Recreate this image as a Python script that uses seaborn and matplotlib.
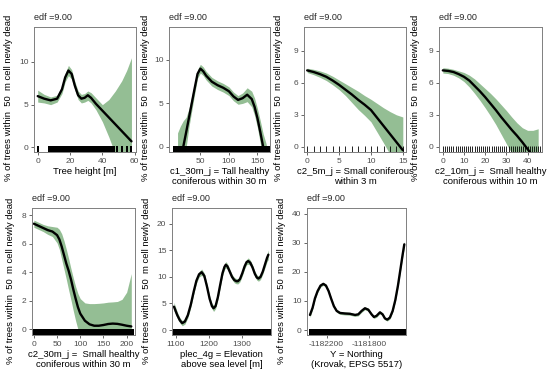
import matplotlib
matplotlib.use("Agg")
import matplotlib.pyplot as plt
import seaborn as sns

sns.set_theme(style="white")
plt.rcParams["font.family"] = ["Liberation Sans", "DejaVu Sans"]
plt.rcParams["axes.unicode_minus"] = False

ylab = "% of trees within  50  m cell newly dead"
edf_text = "edf =9.00"

# --- Tree height
h_x = [0, 4, 8, 12, 15, 17, 19, 21, 23, 25, 27, 29, 31, 33, 36, 40, 44, 48, 52, 55, 58]
h_fit = [6.0, 5.7, 5.5, 5.7, 6.8, 8.2, 9.0, 8.6, 7.2, 6.1, 5.7, 5.8, 6.1, 5.8, 5.1, 4.3, 3.5, 2.7, 1.9, 1.3, 0.7]
h_hi = [6.7, 6.2, 5.9, 6.1, 7.2, 8.7, 9.6, 9.1, 7.7, 6.6, 6.2, 6.3, 6.6, 6.4, 5.8, 5.0, 5.6, 6.6, 7.8, 9.0, 10.5]
h_lo = [5.3, 5.2, 5.0, 5.3, 6.3, 7.7, 8.4, 8.0, 6.7, 5.6, 5.2, 5.3, 5.5, 5.2, 4.4, 3.0, 1.2, -0.8, -3.0, -5.0, -8.0]
h_rug = [0, 7, 8, 9, 10, 11, 12, 13, 14, 15, 16, 17, 18, 19, 20, 21, 22, 23, 24, 25, 26, 27,
         28, 29, 30, 31, 32, 33, 34, 35, 36, 37, 38, 39, 40, 41, 42, 43, 44, 45, 46, 47,
         49, 52, 55, 58]

# --- c1_30m_j
c1_x = [10, 15, 20, 25, 30, 35, 40, 45, 50, 55, 60, 70, 80, 90, 100, 108, 116, 124, 132, 140, 145, 150, 155, 160, 165, 170]
c1_fit = [-3.4, -1.7, 0.0, 1.65, 3.35, 5.05, 6.75, 8.4, 9.0, 8.7, 8.2, 7.5, 7.1, 6.8, 6.4, 5.8, 5.4, 5.6, 6.0, 5.5, 4.6, 3.3, 1.7, 0.0, -1.8, -3.7]
c1_hi = [1.6, 2.4, 3.0, 3.4, 4.4, 5.9, 7.4, 8.9, 9.5, 9.2, 8.7, 8.0, 7.6, 7.3, 6.9, 6.3, 5.9, 6.2, 6.8, 6.4, 5.6, 4.4, 3.0, 1.5, 0.4, -1.2]
c1_lo = [-8.4, -6.0, -3.0, -0.1, 2.3, 4.2, 6.1, 7.9, 8.5, 8.2, 7.7, 7.0, 6.6, 6.3, 5.9, 5.3, 4.9, 5.0, 5.2, 4.6, 3.6, 2.2, 0.4, -1.5, -4.0, -6.2]
c1_rug = [5, 12, 14, 16, 18, 20, 22, 24, 26, 28, 30, 32, 34, 36, 38, 40, 42, 44, 46, 48, 50,
          52, 54, 56, 58, 60, 62, 64, 66, 68, 70, 72, 74, 76, 78, 80, 82, 84, 86, 88, 90,
          92, 94, 96, 98, 100, 102, 104, 106, 108, 110, 112, 114, 116, 118, 120, 122, 124,
          126, 128, 130, 132, 134, 136, 138, 140, 142, 144, 146, 148, 150, 152, 154, 156,
          158, 160, 162, 164, 166, 168]

# --- c2_5m_j
c5_x = [0, 1, 2, 3, 4, 5, 6, 7, 8, 9, 10, 11, 12, 13, 14, 15]
c5_fit = [7.15, 7.0, 6.8, 6.55, 6.2, 5.8, 5.35, 4.9, 4.4, 3.95, 3.45, 2.7, 1.95, 1.2, 0.45, -0.3]
c5_hi = [7.35, 7.25, 7.1, 6.9, 6.6, 6.25, 5.9, 5.55, 5.2, 4.8, 4.45, 4.05, 3.65, 3.3, 3.0, 2.8]
c5_lo = [6.95, 6.75, 6.5, 6.2, 5.8, 5.35, 4.8, 4.15, 3.5, 2.95, 2.35, 1.35, 0.35, -0.7, -2.0, -3.4]
c5_rug = [0, 1, 2, 3, 4, 5, 6, 7, 8, 9, 10, 11, 12, 13, 14, 15]

# --- c2_10m_j
c10_x = [0, 2.5, 5, 7.5, 10, 12.5, 15, 17.5, 20, 22.5, 25, 27.5, 30, 32.5, 35, 37.5, 40, 42.5, 45]
c10_fit = [7.15, 7.1, 7.0, 6.8, 6.55, 6.2, 5.7, 5.2, 4.65, 4.05, 3.45, 2.8, 2.2, 1.6, 1.05, 0.45, -0.2, -0.85, -1.5]
c10_hi = [7.4, 7.35, 7.25, 7.1, 6.95, 6.7, 6.35, 5.9, 5.45, 5.0, 4.5, 3.95, 3.4, 2.8, 2.25, 1.8, 1.55, 1.55, 1.7]
c10_lo = [6.9, 6.85, 6.7, 6.45, 6.1, 5.6, 5.0, 4.35, 3.65, 2.9, 2.1, 1.2, 0.3, -0.6, -1.4, -2.2, -3.0, -3.9, -4.8]
c10_rug = [0, 1, 2, 3, 4, 5, 6, 7, 8, 9, 10, 11, 12, 13, 14, 15, 16, 17, 18, 19, 20, 21, 22, 23,
           24, 25, 26, 27, 28, 29, 30, 31, 32, 33, 34, 35, 36, 37, 38, 39, 40, 41, 42, 43, 44, 45, 46]

# --- c2_30m_j
c30_x = [0, 10, 20, 30, 40, 50, 55, 60, 65, 70, 75, 80, 85, 90, 95, 100, 110, 120, 130, 140, 150, 160, 170, 180, 190, 200, 210]
c30_fit = [7.4, 7.25, 7.1, 6.95, 6.85, 6.6, 6.3, 5.8, 5.2, 4.6, 4.1, 3.5, 2.8, 2.15, 1.55, 1.1, 0.6, 0.35, 0.25, 0.25, 0.3, 0.37, 0.4, 0.38, 0.32, 0.25, 0.2]
c30_hi = [7.65, 7.5, 7.35, 7.25, 7.2, 7.15, 7.0, 6.7, 6.2, 5.6, 4.95, 4.25, 3.6, 3.0, 2.5, 2.15, 1.85, 1.8, 1.8, 1.82, 1.85, 1.9, 1.92, 1.95, 2.1, 2.6, 3.9]
c30_lo = [7.15, 7.0, 6.85, 6.65, 6.5, 6.05, 5.6, 4.9, 4.2, 3.5, 2.75, 2.05, 1.3, 0.6, 0.0, -0.6, -1.2, -1.5, -1.6, -1.6, -1.5, -1.4, -1.4, -1.5, -1.7, -2.2, -3.5]
c30_rug = [0, 4, 8, 12, 16, 20, 24, 28, 32, 36, 40, 44, 48, 52, 56, 60, 64, 68, 72, 76, 80,
           84, 88, 92, 96, 100, 104, 108, 112, 116, 120, 124, 128, 132, 136, 140, 144, 148,
           152, 156, 160, 164, 168, 172, 176, 180, 184, 188, 192, 196, 200, 204, 208, 212]

# --- plec_4g (elevation)
el_x = [1095, 1105, 1113, 1120, 1128, 1137, 1146, 1155, 1163, 1171, 1179, 1187, 1195, 1203, 1210,
        1215, 1221, 1228, 1235, 1242, 1248, 1252, 1257, 1264, 1271, 1278, 1284, 1289, 1295, 1302,
        1309, 1315, 1320, 1326, 1333, 1340, 1346, 1351, 1357, 1364, 1371, 1377, 1381]
el_fit = [4.4, 2.8, 1.8, 1.3, 1.6, 2.8, 4.8, 7.3, 9.3, 10.5, 10.9, 10.2, 8.2, 5.9, 4.5,
          4.1, 4.5, 6.2, 8.5, 10.7, 11.9, 12.3, 12.0, 11.0, 10.0, 9.4, 9.2, 9.2, 9.6, 10.7,
          12.0, 12.8, 13.0, 12.7, 11.8, 10.6, 9.9, 9.7, 10.0, 11.0, 12.4, 13.6, 14.2]
el_hw = [0.8, 0.6, 0.5, 0.5, 0.5, 0.5, 0.5, 0.5, 0.5, 0.5, 0.6, 0.5, 0.5, 0.5, 0.5,
         0.6, 0.5, 0.5, 0.5, 0.5, 0.5, 0.6, 0.5, 0.5, 0.5, 0.5, 0.5, 0.5, 0.5, 0.5,
         0.5, 0.5, 0.6, 0.5, 0.5, 0.5, 0.5, 0.5, 0.5, 0.5, 0.6, 0.7, 0.9]
el_rug = [1095, 1100, 1105, 1110, 1115, 1120, 1125, 1130, 1135, 1140, 1145, 1150, 1155, 1160,
          1165, 1170, 1175, 1180, 1185, 1190, 1195, 1200, 1205, 1210, 1215, 1220, 1225, 1230,
          1235, 1240, 1245, 1250, 1255, 1260, 1265, 1270, 1275, 1280, 1285, 1290, 1295, 1300,
          1305, 1310, 1315, 1320, 1325, 1330, 1335, 1340, 1345, 1350, 1355, 1360, 1365, 1370,
          1375, 1380, 1383]

# --- Northing
ny_x = [-1182357, -1182332, -1182310, -1182285, -1182257, -1182231, -1182206, -1182181,
        -1182156, -1182131, -1182105, -1182074, -1182027, -1181980, -1181932, -1181901,
        -1181869, -1181838, -1181806, -1181775, -1181753, -1181728, -1181696, -1181671,
        -1181649, -1181627, -1181602, -1181576, -1181551, -1181526, -1181501, -1181482, -1181466]
ny_fit = [5.2, 7.7, 10.9, 13.4, 15.3, 15.9, 15.3, 13.4, 10.7, 8.2, 6.6, 5.9, 5.7, 5.6, 5.2, 5.4,
          6.6, 7.5, 7.0, 5.4, 4.5, 4.9, 6.1, 5.4, 4.0, 3.6, 4.3, 6.6, 10.3, 15.3, 21.3, 25.9, 29.5]
ny_hw = [0.9, 0.6, 0.5, 0.5, 0.5, 0.5, 0.5, 0.5, 0.5, 0.5, 0.5, 0.5, 0.5, 0.5, 0.5, 0.5,
         0.5, 0.5, 0.5, 0.5, 0.5, 0.5, 0.5, 0.5, 0.5, 0.5, 0.5, 0.5, 0.5, 0.6, 0.7, 0.9, 1.1]
ny_rug = [-1182355, -1182340, -1182325, -1182310, -1182295, -1182280, -1182265, -1182250,
          -1182235, -1182220, -1182205, -1182190, -1182175, -1182160, -1182145, -1182130,
          -1182115, -1182100, -1182085, -1182070, -1182055, -1182040, -1182025, -1182010,
          -1181995, -1181980, -1181965, -1181950, -1181935, -1181920, -1181905, -1181890,
          -1181875, -1181860, -1181845, -1181830, -1181815, -1181800, -1181785, -1181770,
          -1181755, -1181740, -1181725, -1181710, -1181695, -1181680, -1181665, -1181650,
          -1181635, -1181620, -1181605, -1181590, -1181575, -1181560, -1181545, -1181530,
          -1181515, -1181500, -1181485, -1181468]
ny_ticks = [-1182200, -1181800]
ny_ticklabels = ["-1182200", "-1181800"]

el_lo = [f - w for f, w in zip(el_fit, el_hw)]
el_hi = [f + w for f, w in zip(el_fit, el_hw)]
ny_lo = [f - w for f, w in zip(ny_fit, ny_hw)]
ny_hi = [f + w for f, w in zip(ny_fit, ny_hw)]

panels = [
    dict(x=h_x, fit=h_fit, lo=h_lo, hi=h_hi, rug=h_rug, rug_lw=1.1, rug_aa=False,
         xlabel="Tree height [m]", xticks=[0, 20, 40, 60], yticks=[0, 5, 10],
         xlim=(-2.3, 60.8), ylim=(-0.55, 14.1),
         pos=(34, 27, 102, 125), ylx=-0.206),
    dict(x=c1_x, fit=c1_fit, lo=c1_lo, hi=c1_hi, rug=c1_rug, rug_lw=1.5, rug_aa=False,
         xlabel="c1_30m_j = Tall healthy\nconiferous within 30 m", xticks=[50, 100, 150], yticks=[0, 5, 10],
         xlim=(-5, 172), ylim=(-0.6, 13.8),
         pos=(169, 27, 101, 125), ylx=-0.185),
    dict(x=c5_x, fit=c5_fit, lo=c5_lo, hi=c5_hi, rug=c5_rug, rug_lw=0.6, rug_aa=True,
         xlabel="c2_5m_j = Small coniferous\nwithin 3 m", xticks=[0, 5, 10, 15], yticks=[0, 3, 6, 9],
         xlim=(-0.5, 15.5), ylim=(-0.47, 11.2),
         pos=(304, 27, 102, 125), ylx=-0.203),
    dict(x=c10_x, fit=c10_fit, lo=c10_lo, hi=c10_hi, rug=c10_rug, rug_lw=0.6, rug_aa=True,
         xlabel="c2_10m_j =  Small healthy\nconiferous within 10 m", xticks=[0, 10, 20, 30, 40], yticks=[0, 3, 6, 9],
         xlim=(-1.8, 46.8), ylim=(-0.47, 11.2),
         pos=(439, 27, 103, 125), ylx=-0.18),
    dict(x=c30_x, fit=c30_fit, lo=c30_lo, hi=c30_hi, rug=c30_rug, rug_lw=2.0, rug_aa=False,
         xlabel="c2_30m_j =  Small healthy\nconiferous within 30 m", xticks=[0, 50, 100, 150, 200], yticks=[0, 2, 4, 6, 8],
         xlim=(-4, 218), ylim=(-0.4, 8.5),
         pos=(32, 208, 103, 127), ylx=-0.165),
    dict(x=el_x, fit=el_fit, lo=el_lo, hi=el_hi, rug=el_rug, rug_lw=2.0, rug_aa=False,
         xlabel="plec_4g = Elevation\nabove sea level [m]", xticks=[1100, 1200, 1300], yticks=[0, 5, 10, 15, 20],
         xlim=(1089, 1389), ylim=(-0.94, 23),
         pos=(172, 208, 99, 127), ylx=-0.209),
    dict(x=ny_x, fit=ny_fit, lo=ny_lo, hi=ny_hi, rug=ny_rug, rug_lw=2.0, rug_aa=False,
         xlabel="Y = Northing\n(Krovak, EPSG 5517)", xticks=ny_ticks, xticklabels=ny_ticklabels,
         yticks=[0, 10, 20, 30, 40],
         xlim=(-1182385, -1181450), ylim=(-1.7, 42),
         pos=(307, 208, 99, 127), ylx=-0.209),
]

W, H = 550, 373
fig = plt.figure(figsize=(W / 100, H / 100), dpi=100)

for p in panels:
    l, t, w, h = p["pos"]
    ax = fig.add_axes([l / W, (H - t - h) / H, w / W, h / H])

    # rug first so the band sits over it
    sns.rugplot(x=p["rug"], ax=ax, height=0.045, color="black",
                linewidth=p["rug_lw"], expand_margins=False, antialiased=p["rug_aa"])
    ax.fill_between(p["x"], p["lo"], p["hi"], color="darkgreen", alpha=0.42, linewidth=0)
    sns.lineplot(x=p["x"], y=p["fit"], ax=ax, color="black", linewidth=1.7)

    ax.set_xlim(*p["xlim"])
    ax.set_ylim(*p["ylim"])
    if "xticklabels" in p:
        ax.set_xticks(p["xticks"], p["xticklabels"])
    else:
        ax.set_xticks(p["xticks"])
    ax.set_yticks(p["yticks"])

    for s in ax.spines.values():
        s.set_color("#7f7f7f")
        s.set_linewidth(0.7)
    ax.tick_params(length=2.5, width=0.6, color="#4d4d4d", labelsize=6,
                   labelcolor="#4d4d4d", pad=1.5, bottom=True, left=True)

    ax.set_xlabel(p["xlabel"], fontsize=6.8, color="black", labelpad=2, linespacing=1.05)
    ax.set_ylabel(ylab, fontsize=6.8, color="black")
    ax.yaxis.set_label_coords(p["ylx"], 0.43)
    ax.set_title(edf_text, loc="left", fontsize=6.5, pad=5)

fig.savefig("out.png", dpi=100)
